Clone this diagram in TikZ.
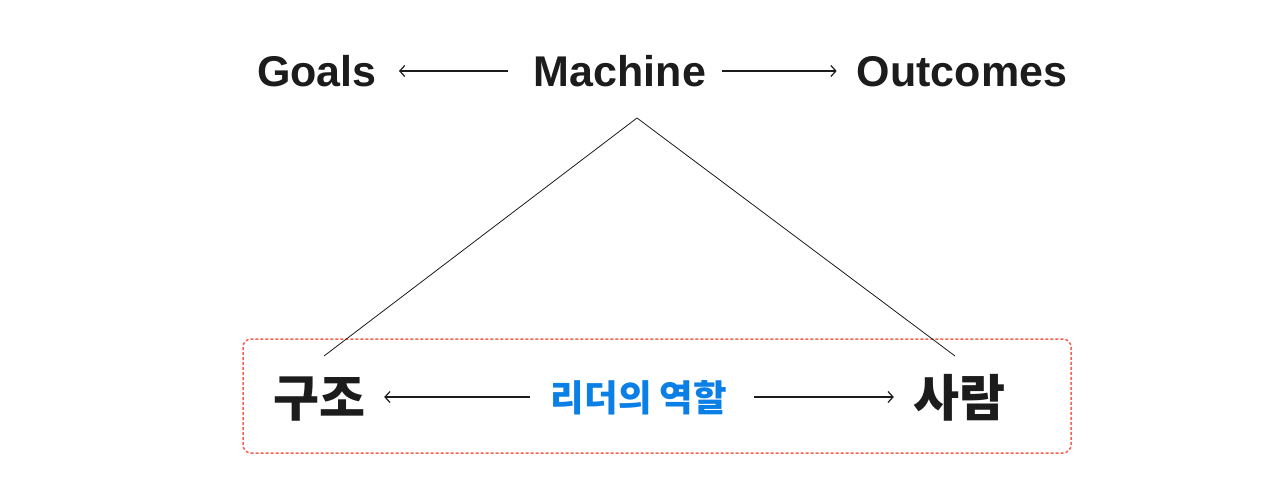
\documentclass[tikz,border=0pt]{standalone}
\usepackage{fontspec}
\setmainfont{Liberation Sans}
\newfontfamily\kr{Noto Sans CJK KR}
\usetikzlibrary{arrows.meta}
\definecolor{ink}{HTML}{1C1C1C}
\definecolor{roleblue}{HTML}{0A7FE6}
\definecolor{boxred}{HTML}{F8604F}
\tikzset{
  entxt/.style={inner sep=0pt, text=ink, font=\fontsize{43}{43}\selectfont\bfseries, text height=31pt, text depth=0pt},
  krtxt/.style={inner sep=0pt, text=ink, font=\kr\fontsize{50}{50}\selectfont\bfseries, text height=42pt, text depth=4pt},
  roletxt/.style={inner sep=0pt, text=roleblue, font=\kr\fontsize{36.5}{36.5}\selectfont\bfseries, text height=31pt, text depth=3pt},
  flow/.style={-{Straight Barb[length=5pt,width=11pt,line width=1.2pt]}, line width=1.3pt, ink},
  leg/.style={line width=0.8pt, ink},
  frame/.style={draw=boxred, dash pattern=on 3pt off 2pt, line width=1.5pt, rounded corners=8pt}
}
\begin{document}
\begin{tikzpicture}[x=1pt,y=-1pt]
\useasboundingbox (0,0) rectangle (1280,500);
\fill[white] (0,0) rectangle (1280,500);
\draw[frame] (243,339) rectangle (1071,453);
\node[entxt] (goals) at (317,71) {Goals};
\node[entxt] (machine) at (620,71) {Machine};
\node[entxt] (outcomes) at (962,71) {Outcomes};
\node[krtxt] (gujo) at (319,397) {구조};
\node[krtxt] (saram) at (959,397) {사람};
\node[roletxt] (role) at (639,397) {리더의 역할};
\coordinate (apex) at (637,118);
\coordinate (lfoot) at (324,356);
\coordinate (rfoot) at (955,356);
\draw[flow, shorten <=26pt, shorten >=22pt] (machine.west) -- (goals.east);
\draw[flow, shorten <=16pt, shorten >=20pt] (machine.east) -- (outcomes.west);
\draw[flow, shorten <=21pt, shorten >=19pt] (role.west) -- (gujo.east);
\draw[flow, shorten <=27pt, shorten >=19pt] (role.east) -- (saram.west);
\draw[leg] (apex) -- (lfoot);
\draw[leg] (apex) -- (rfoot);
\end{tikzpicture}
\end{document}
